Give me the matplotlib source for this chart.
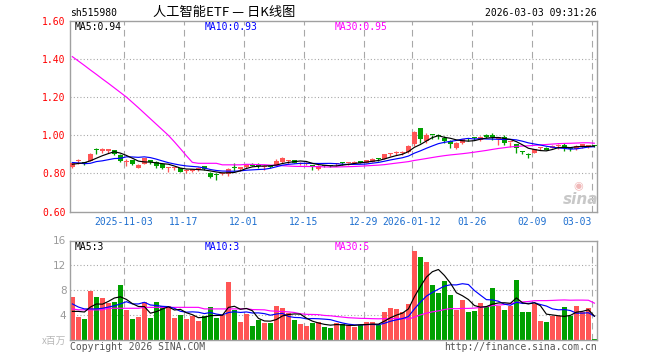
import matplotlib
matplotlib.use('Agg')
import matplotlib.pyplot as plt
import numpy as np
import pandas as pd

# ---------------- data ----------------
open_ = [0.832, 0.863, 0.855, 0.866, 0.923, 0.920, 0.920, 0.922, 0.899, 0.858,
         0.870, 0.829, 0.851, 0.864, 0.862, 0.850, 0.826, 0.828, 0.827, 0.814,
         0.810, 0.820, 0.839, 0.801, 0.791, 0.796, 0.797, 0.831, 0.825, 0.832,
         0.849, 0.842, 0.833, 0.837, 0.844, 0.858, 0.866, 0.870, 0.850, 0.851,
         0.844, 0.822, 0.842, 0.841, 0.850, 0.854, 0.854, 0.852, 0.859, 0.856,
         0.862, 0.877, 0.876, 0.903, 0.908, 0.908, 0.911, 0.953, 1.038, 0.972,
         1.002, 0.997, 0.984, 0.970, 0.935, 0.958, 0.984, 0.986, 0.976, 1.003,
         0.995, 0.983, 0.989, 0.964, 0.954, 0.913, 0.897, 0.909, 0.935, 0.935,
         0.934, 0.942, 0.951, 0.930, 0.926, 0.937, 0.943, 0.945]
high = [0.860, 0.873, 0.862, 0.905, 0.935, 0.933, 0.930, 0.924, 0.902, 0.874,
        0.872, 0.848, 0.883, 0.867, 0.864, 0.852, 0.833, 0.833, 0.830, 0.823,
        0.823, 0.831, 0.841, 0.808, 0.803, 0.806, 0.829, 0.852, 0.829, 0.851,
        0.852, 0.852, 0.842, 0.842, 0.874, 0.888, 0.870, 0.872, 0.858, 0.858,
        0.846, 0.845, 0.845, 0.843, 0.852, 0.858, 0.857, 0.864, 0.862, 0.870,
        0.879, 0.882, 0.904, 0.907, 0.917, 0.920, 0.948, 1.022, 1.040, 1.010,
        1.004, 1.005, 0.996, 0.973, 0.963, 0.982, 0.988, 0.990, 0.994, 1.005,
        1.014, 0.986, 1.000, 0.967, 0.956, 0.920, 0.908, 0.928, 0.940, 0.937,
        0.950, 0.954, 0.960, 0.938, 0.948, 0.956, 0.946, 0.950]
low = [0.828, 0.847, 0.842, 0.864, 0.900, 0.906, 0.906, 0.894, 0.860, 0.839,
       0.842, 0.827, 0.849, 0.851, 0.827, 0.822, 0.806, 0.818, 0.806, 0.803,
       0.808, 0.810, 0.820, 0.778, 0.765, 0.790, 0.785, 0.815, 0.814, 0.830,
       0.838, 0.828, 0.820, 0.826, 0.842, 0.855, 0.848, 0.853, 0.845, 0.846,
       0.820, 0.818, 0.835, 0.834, 0.840, 0.846, 0.845, 0.850, 0.852, 0.854,
       0.860, 0.866, 0.874, 0.891, 0.898, 0.898, 0.905, 0.944, 0.962, 0.958,
       0.979, 0.979, 0.958, 0.932, 0.930, 0.956, 0.970, 0.975, 0.972, 0.986,
       0.975, 0.949, 0.949, 0.937, 0.909, 0.900, 0.880, 0.907, 0.925, 0.923,
       0.932, 0.928, 0.920, 0.918, 0.924, 0.935, 0.935, 0.938]
close = [0.856, 0.866, 0.853, 0.902, 0.921, 0.922, 0.922, 0.901, 0.867, 0.860,
         0.849, 0.846, 0.879, 0.862, 0.841, 0.827, 0.832, 0.832, 0.808, 0.816,
         0.822, 0.822, 0.822, 0.783, 0.789, 0.798, 0.825, 0.829, 0.828, 0.849,
         0.841, 0.840, 0.836, 0.835, 0.867, 0.881, 0.869, 0.856, 0.853, 0.854,
         0.832, 0.837, 0.839, 0.838, 0.851, 0.853, 0.856, 0.862, 0.857, 0.868,
         0.876, 0.875, 0.902, 0.905, 0.910, 0.910, 0.944, 1.015, 0.978, 1.003,
         1.000, 0.994, 0.972, 0.953, 0.961, 0.979, 0.982, 0.984, 0.992, 0.989,
         0.993, 0.985, 0.958, 0.966, 0.932, 0.910, 0.894, 0.926, 0.937, 0.924,
         0.946, 0.944, 0.935, 0.928, 0.946, 0.954, 0.944, 0.944]
volume = [6.93, 3.76, 3.44, 7.90, 6.93, 6.77, 6.00, 6.17, 8.86, 4.83,
          3.38, 3.70, 6.10, 3.54, 6.10, 5.48, 5.48, 3.54, 4.03, 3.38,
          3.92, 3.06, 3.92, 5.30, 3.54, 4.10, 9.34, 4.83, 2.90, 4.19,
          2.26, 3.22, 2.74, 2.74, 5.48, 5.16, 4.35, 3.22, 2.58, 2.26,
          2.74, 2.90, 2.10, 1.93, 2.74, 2.58, 2.42, 2.10, 2.42, 2.90,
          2.90, 2.42, 4.51, 5.16, 5.00, 4.51, 5.80, 14.30, 13.40, 12.56,
          8.86, 7.57, 9.50, 7.25, 4.83, 6.44, 4.51, 4.67, 5.96, 5.30,
          8.38, 5.48, 4.83, 5.48, 9.66, 4.51, 4.51, 5.80, 3.06, 2.90,
          3.87, 3.87, 5.30, 3.87, 5.48, 4.51, 5.16, 0.16]

# moving-average values before a full window exists
price_ma5_head = [0.848, 0.852, 0.856, 0.866]
price_ma10_head = [0.857, 0.855, 0.851, 0.853, 0.862, 0.866, 0.872, 0.878, 0.879]
price_ma30_head = [1.413, 1.390, 1.367, 1.343, 1.320, 1.296, 1.273, 1.249, 1.225, 1.201,
                   1.173, 1.145, 1.116, 1.087, 1.058, 1.029, 1.000, 0.966, 0.930, 0.893,
                   0.858, 0.853, 0.853, 0.853, 0.853, 0.845, 0.845, 0.845, 0.845]
vol_ma5_head = [4.6, 4.6, 4.5, 5.3]
vol_ma10_head = [5.8, 5.3, 5.0, 5.0, 5.0, 5.1, 5.3, 5.5, 5.8]
vol_ma30_head = [5.0, 4.85, 4.85, 4.85, 4.85, 4.85, 5.1, 5.1, 5.1, 5.1,
                 5.1, 5.1, 5.25, 5.25, 5.25, 5.25, 5.25, 5.25, 5.25, 5.25,
                 5.25, 5.25, 5.0, 5.0, 5.0, 5.0, 5.0, 5.0, 5.0]

tick_pos = [9, 19, 29, 39, 49, 57, 67, 77, 87]
tick_labels = ['2025-11-03', '11-17', '12-01', '12-15', '12-29',
               '2026-01-12', '01-26', '02-09', '03-03']
price_ticks = [0.60, 0.80, 1.00, 1.20, 1.40, 1.60]
vol_ticks = [4, 8, 12, 16]

code_text = 'sh515980'
title_text = '人工智能ETF — 日K线图'
time_text = '2026-03-03 09:31:26'
price_ma_labels = ['MA5:0.94', 'MA10:0.93', 'MA30:0.95']
vol_ma_labels = ['MA5:3', 'MA10:3', 'MA30:5']
unit_text = 'x百万'

# ---------------- helpers ----------------
def ma(values, n, head):
    s = pd.Series(values, dtype=float).rolling(n).mean().to_numpy()
    s[:n - 1] = head
    return s

RED = '#FF5555'
GREEN = '#00A000'
GRID = '#A8A8A8'
SPINE = '#A0A0A0'
MONO = 'DejaVu Sans Mono'
CJK = ['Noto Sans CJK SC', 'DejaVu Sans']
PX = 0.72  # one pixel in points
LW = 0.85

W, H = 660, 360
fig = plt.figure(figsize=(W / 100, H / 100), dpi=100)
fig.patch.set_facecolor('white')

def fx(x):
    return x / W

def fy(y):
    return 1 - y / H

n = len(close)
xk = np.arange(n)
BW = 0.78
XMAX = 87.83

ax = fig.add_axes([fx(70), fy(211.5), fx(597) - fx(70), fy(21) - fy(211.5)])
axv = fig.add_axes([fx(70), fy(340), fx(597) - fx(70), fy(240.5) - fy(340)])

for a in (ax, axv):
    a.set_xlim(0, XMAX)
    for s in a.spines.values():
        s.set_color(SPINE)
        s.set_linewidth(1.0)
    a.tick_params(length=0)
    a.set_axisbelow(True)
    for k in tick_pos:
        a.axvline(k + 0.02, color=GRID, lw=PX * 1.1, ls=(0, (6, 4)), zorder=0)

# ---- price panel ----
ax.set_ylim(0.60, 1.60)
ax.set_yticks(price_ticks)
ax.set_yticklabels(['%.2f' % v for v in price_ticks], color='#FF0000',
                   fontfamily=MONO, fontsize=7)
ax.tick_params(axis='y', pad=3)
for v in price_ticks[1:-1]:
    ax.axhline(v, color=GRID, lw=PX * 1.1, ls=(0, (1, 2)), zorder=0)

o = np.array(open_); c = np.array(close); h = np.array(high); l = np.array(low)
up = c >= o
colors = np.where(up, RED, GREEN)
body_bottom = np.minimum(o, c)
body_h = np.maximum(np.abs(c - o), 0.006)
ax.vlines(xk + BW / 2, l, h, colors=colors, lw=PX * 1.3, zorder=2)
ax.bar(xk, body_h, bottom=body_bottom, width=BW, align='edge', color=colors,
       linewidth=0, zorder=3)

ax.plot(xk + BW / 2, ma(close, 30, price_ma30_head), color='#FF00FF', lw=LW, zorder=4)
ax.plot(xk + BW / 2, ma(close, 10, price_ma10_head), color='#0000FF', lw=LW, zorder=5)
ax.plot(xk + BW / 2, ma(close, 5, price_ma5_head), color='#000000', lw=LW, zorder=6)

ax.set_xticks(tick_pos)
ax.set_xticklabels(tick_labels, color='#1E6FD0', fontfamily=MONO, fontsize=7)
ax.tick_params(axis='x', pad=4)
ax.get_xticklabels()[-1].set_ha('right')

# ---- volume panel ----
axv.set_ylim(0, 16)
axv.set_yticks(vol_ticks)
axv.set_yticklabels([str(v) for v in vol_ticks], color='#9A9A9A', fontsize=7.5)
axv.tick_params(axis='y', pad=2.5)
axv.set_xticks([])
for v in vol_ticks[:-1]:
    axv.axhline(v, color=GRID, lw=PX * 1.1, ls=(0, (1, 2)), zorder=0)
axv.bar(xk, volume, width=0.8, align='edge', color=colors, linewidth=0, zorder=2)
axv.plot(xk + 0.4, ma(volume, 30, vol_ma30_head), color='#FF00FF', lw=LW, zorder=4)
axv.plot(xk + 0.4, ma(volume, 10, vol_ma10_head), color='#0000FF', lw=LW, zorder=5)
axv.plot(xk + 0.4, ma(volume, 5, vol_ma5_head), color='#000000', lw=LW, zorder=6)

# ---- texts ----
fig.text(fx(70), fy(12.5), code_text, fontfamily=MONO, fontsize=7, va='center', ha='left')
fig.text(fx(224), fy(12), title_text, fontfamily=CJK, fontsize=9.5, va='center', ha='center')
fig.text(fx(597), fy(12.5), time_text, fontfamily=MONO, fontsize=7, va='center', ha='right')

ma_cols = ['#000000', '#0000FF', '#FF00FF']
ma_x = [75, 205, 335]
for lab, col, x in zip(price_ma_labels, ma_cols, ma_x):
    fig.text(fx(x), fy(27), lab, color=col, fontfamily=MONO, fontsize=7, va='center', ha='left')
for lab, col, x in zip(vol_ma_labels, ma_cols, ma_x):
    fig.text(fx(x), fy(246.5), lab, color=col, fontfamily=MONO, fontsize=7, va='center', ha='left')

fig.text(fx(66), fy(341), unit_text, fontfamily=CJK, fontsize=7, color='#B8B8B8',
         va='center', ha='right')
fig.text(fx(70), fy(347.5), 'Copyright 2026 SINA.COM', fontfamily=MONO, fontsize=7,
         color='#555555', va='center', ha='left')
fig.text(fx(597), fy(347.5), 'http://finance.sina.com.cn', fontfamily=MONO, fontsize=7,
         color='#555555', va='center', ha='right')

# sina watermark
fig.text(fx(581), fy(199), 'sina', fontsize=11, fontweight='bold', style='italic',
         color='#C8C8C8', va='center', ha='center')
fig.text(fx(578), fy(186), '◉', fontsize=8, color='#F0B8B8', va='center', ha='center')

fig.savefig('out.png', dpi=100, facecolor='white')
